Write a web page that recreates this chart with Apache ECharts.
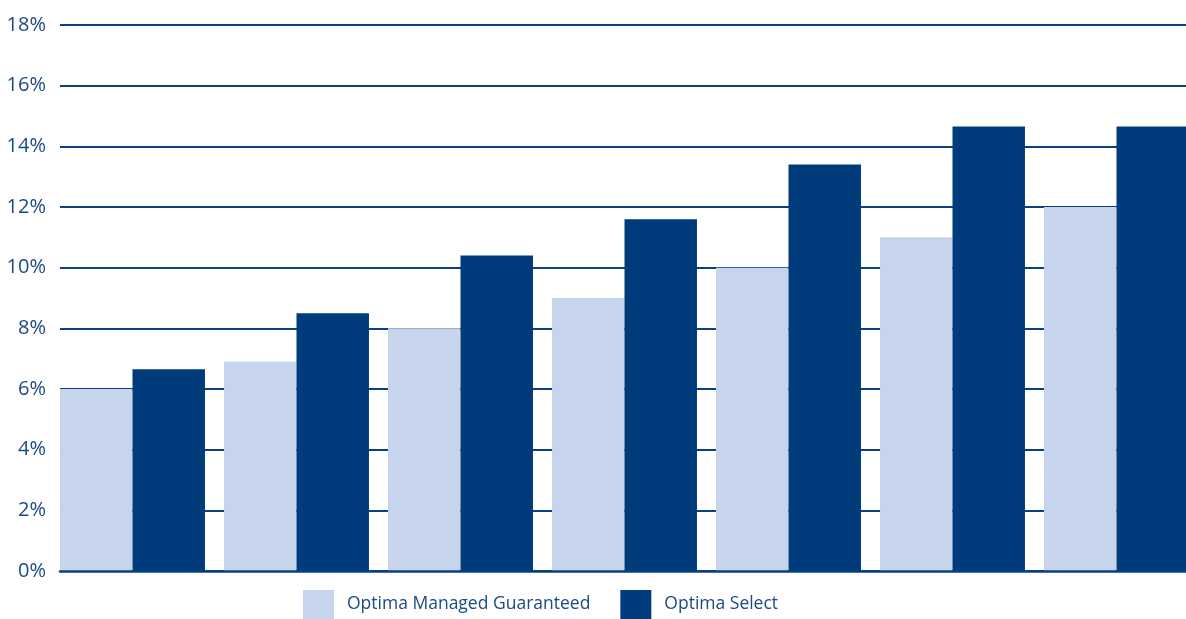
<!DOCTYPE html>
<html>
<head>
<meta charset="utf-8">
<script src="https://cdn.jsdelivr.net/npm/echarts@6/dist/echarts.min.js"></script>
<style>
html,body{margin:0;padding:0;background:#fff;overflow:hidden;}
#chart{width:1200px;height:619px;}
</style>
</head>
<body>
<div id="chart"></div>
<script>
var chart = echarts.init(document.getElementById("chart"));

// categories carry no visible labels in the picture
var categories = ['1', '2', '3', '4', '5', '6', '7'];
var managedGuaranteed = [6.0, 6.9, 8.0, 9.0, 10.0, 11.0, 12.0];
var optimaSelect = [6.65, 8.5, 10.4, 11.6, 13.4, 14.65, 14.65];
var yTicks = [0, 2, 4, 6, 8, 10, 12, 14, 16, 18];

var lineColor = '#0b3f7f';
var textColor = '#1b4a84';
var fontFam = '"Open Sans", "Noto Sans", sans-serif';

var option = {
	animation: false,
	legend: {
		left: 298,
		top: 585,
		itemWidth: 31,
		itemHeight: 29,
		itemGap: 30,
		icon: 'rect',
		textStyle: {
			color: textColor,
			fontSize: 17.5,
			fontFamily: fontFam,
			padding: [0, 0, 0, 8]
		},
		data: ['Optima Managed Guaranteed', 'Optima Select']
	},
	grid: [
		// bars (the last bar runs past the right edge of the page)
		{left: 50.5, top: 25, width: 1148, height: 546},
		// grid lines and tick labels
		{left: 60, top: 25, width: 1126, height: 546}
	],
	xAxis: [
		{
			type: 'category',
			gridIndex: 0,
			data: categories,
			axisLine: {show: false},
			axisTick: {show: false},
			axisLabel: {show: false}
		},
		{
			type: 'value',
			gridIndex: 1,
			min: 0,
			max: 1,
			axisLine: {show: true, lineStyle: {color: lineColor, width: 2.5}},
			axisTick: {show: false},
			axisLabel: {show: false},
			splitLine: {show: false},
			z: 5
		}
	],
	yAxis: [
		{
			type: 'value',
			gridIndex: 0,
			min: 0,
			max: 18,
			interval: 2,
			axisLine: {show: false},
			axisTick: {show: false},
			axisLabel: {show: false},
			splitLine: {show: false}
		},
		{
			type: 'value',
			gridIndex: 1,
			min: yTicks[0],
			max: yTicks[yTicks.length - 1],
			interval: 2,
			axisLine: {show: false},
			axisTick: {show: false},
			axisLabel: {
				color: textColor,
				fontSize: 20,
				fontFamily: fontFam,
				margin: 14,
				formatter: '{value}%'
			},
			splitLine: {lineStyle: {color: lineColor, width: 2}}
		}
	],
	series: [
		{
			name: 'Optima Managed Guaranteed',
			type: 'bar',
			xAxisIndex: 0,
			yAxisIndex: 0,
			data: managedGuaranteed,
			barGap: '0%',
			barCategoryGap: '11.6%',
			itemStyle: {color: '#c6d5ec'}
		},
		{
			name: 'Optima Select',
			type: 'bar',
			xAxisIndex: 0,
			yAxisIndex: 0,
			data: optimaSelect,
			barGap: '0%',
			barCategoryGap: '11.6%',
			itemStyle: {color: '#003c7c'}
		}
	]
};
chart.setOption(option);
</script>
</body>
</html>
